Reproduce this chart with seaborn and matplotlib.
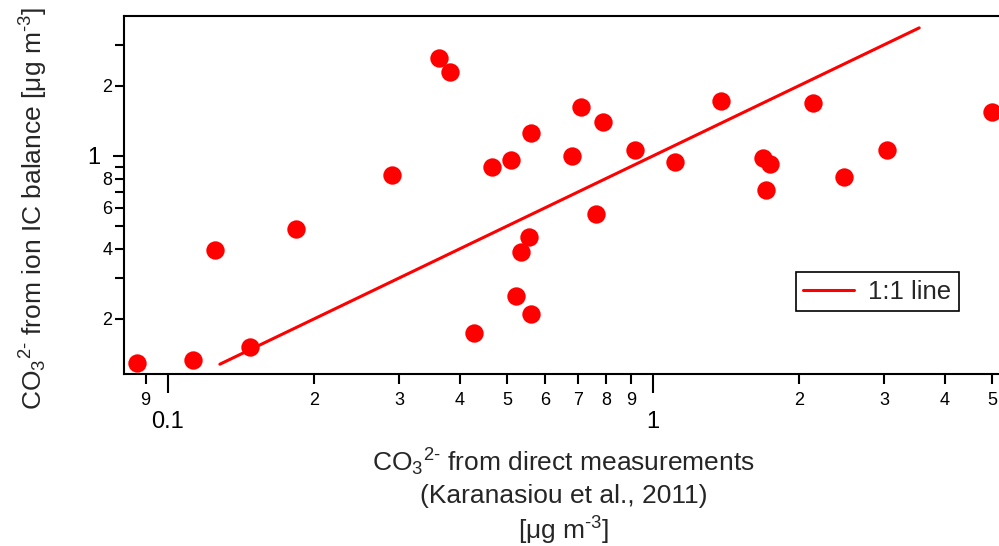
import matplotlib
matplotlib.use("Agg")
import matplotlib.pyplot as plt
import seaborn as sns
import pandas as pd
from matplotlib.ticker import FixedLocator, FixedFormatter

# ---- data ----
direct = [0.0863, 0.1128, 0.1252, 0.148, 0.184, 0.2897, 0.362, 0.3814, 0.4275,
          0.465, 0.5087, 0.521, 0.535, 0.555, 0.56, 0.56, 0.68, 0.710, 0.765,
          0.790, 0.918, 1.108, 1.379, 1.686, 1.711, 1.747, 2.135, 2.476, 3.033, 4.99]
ic_balance = [0.129, 0.134, 0.395, 0.152, 0.484, 0.826, 2.617, 2.30, 0.1744,
              0.900, 0.961, 0.2515, 0.387, 0.449, 1.259, 0.21, 1.0, 1.623, 0.563,
              1.396, 1.059, 0.941, 1.718, 0.979, 0.716, 0.920, 1.684, 0.811, 1.056, 1.541]
line_x = [0.128, 3.54]
line_y = [0.128, 3.54]

x_major = [0.1, 1]
x_major_labels = ["0.1", "1"]
x_minor = [0.09, 0.2, 0.3, 0.4, 0.5, 0.6, 0.7, 0.8, 0.9, 2, 3, 4, 5]
x_minor_labels = ["9", "2", "3", "4", "5", "6", "7", "8", "9", "2", "3", "4", "5"]
y_major = [1]
y_major_labels = ["1"]
y_minor = [0.2, 0.3, 0.4, 0.5, 0.6, 0.7, 0.8, 0.9, 2, 3]
y_minor_labels = ["2", "", "4", "", "6", "", "8", "", "2", ""]

sns.set_style("ticks")
plt.rcParams['font.family'] = ['Liberation Sans', 'DejaVu Sans']
plt.rcParams['mathtext.fontset'] = 'custom'
plt.rcParams['mathtext.rm'] = 'Liberation Sans'
plt.rcParams['mathtext.it'] = 'Liberation Sans:italic'
plt.rcParams['mathtext.bf'] = 'Liberation Sans:bold'
plt.rcParams['mathtext.default'] = 'rm'

fig = plt.figure(figsize=(9.99, 5.46), dpi=100)
ax = fig.add_axes([124 / 999, 1 - 374 / 546, 875 / 999, 358 / 546])
ax.set_xscale('log')
ax.set_yscale('log')

df = pd.DataFrame({"direct": direct, "ic": ic_balance})
sns.scatterplot(data=df, x="direct", y="ic", ax=ax, color="#ff0000", s=175,
                linewidth=0, legend=False, clip_on=False, zorder=3)
sns.lineplot(x=line_x, y=line_y, ax=ax, color="#ff0000", lw=2.2, label="1:1 line")

ax.set_xlim(0.0812, 5.17)
ax.set_ylim(0.1162, 3.98)

ax.xaxis.set_major_locator(FixedLocator(x_major))
ax.xaxis.set_major_formatter(FixedFormatter(x_major_labels))
ax.xaxis.set_minor_locator(FixedLocator(x_minor))
ax.xaxis.set_minor_formatter(FixedFormatter(x_minor_labels))
ax.yaxis.set_major_locator(FixedLocator(y_major))
ax.yaxis.set_major_formatter(FixedFormatter(y_major_labels))
ax.yaxis.set_minor_locator(FixedLocator(y_minor))
ax.yaxis.set_minor_formatter(FixedFormatter(y_minor_labels))

ax.tick_params(axis='both', which='both', direction='out', width=1.5, color='black',
               labelcolor='black')
ax.tick_params(axis='x', which='major', length=14, labelsize=17, pad=13)
ax.tick_params(axis='x', which='minor', length=7, labelsize=13, pad=6)
ax.tick_params(axis='y', which='major', length=8, labelsize=17, pad=9)
ax.tick_params(axis='y', which='minor', length=6.5, labelsize=13, pad=2)

for side in ['left', 'bottom', 'top']:
    ax.spines[side].set_linewidth(1.5)
    ax.spines[side].set_color('black')
ax.spines['right'].set_visible(False)

ax.set_xlabel("CO$_3$$^{2\\text{-}}$ from direct measurements\n(Karanasiou et al., 2011)\n[μg m$^{\\text{-}3}$]",
              fontsize=19, linespacing=1.3)
ax.xaxis.set_label_coords(0.502, -0.203)
ax.set_ylabel("CO$_3$$^{2\\text{-}}$ from ion IC balance [μg m$^{\\text{-}3}$]", fontsize=19)
ax.yaxis.set_label_coords(-0.0846, 0.461)

leg = ax.legend(loc='upper left', bbox_to_anchor=(0.7677, 0.285), frameon=True,
                fancybox=False, edgecolor='black', framealpha=1, fontsize=18.5,
                handlelength=1.95, handletextpad=0.55, borderpad=0.3, borderaxespad=0)
leg.get_frame().set_linewidth(1.2)

fig.savefig("out.png", dpi=100)
